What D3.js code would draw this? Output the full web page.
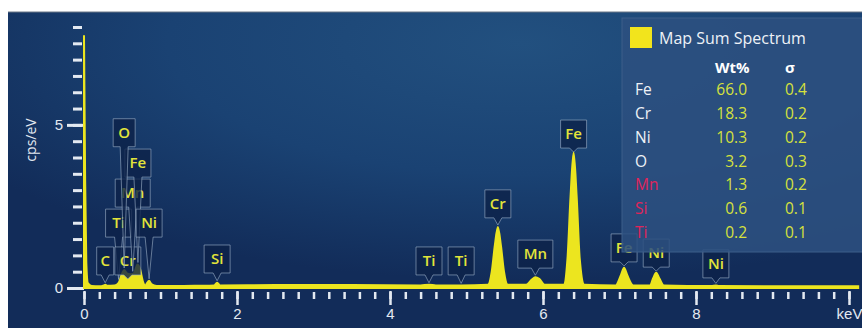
<!DOCTYPE html>
<html>
<head>
<meta charset="utf-8">
<script src="https://cdn.jsdelivr.net/npm/d3@7"></script>
<style>
  body { margin: 0; background: #fff; }
  svg { display: block; font-family: "Open Sans", "Noto Sans", sans-serif; }
</style>
</head>
<body>
<svg id="chart" width="862" height="328"></svg>
<script>
// spectre : énergie (keV) et intensité (cps/eV)
const energies = [0.00, 0.005, 0.015, 0.03, 0.05, 0.10, 0.20, 0.26, 0.28, 0.30, 0.40, 0.45, 0.50, 0.525, 0.56, 0.60, 0.65, 0.70, 0.73, 0.77, 0.80, 0.85, 0.88, 0.95,
  1.20, 1.50, 1.70, 1.74, 1.78, 2.50, 3.50, 4.40, 4.51, 4.60, 4.93, 5.28, 5.33, 5.37, 5.41, 5.45, 5.49, 5.54, 5.78, 5.85, 5.90, 5.95, 6.02,
  6.27, 6.32, 6.36, 6.40, 6.44, 6.48, 6.54, 6.95, 7.02, 7.06, 7.10, 7.18, 7.40, 7.44, 7.48, 7.52, 7.58, 8.20, 8.26, 8.30, 9.50, 10.12];
const counts = [7.75, 6.2, 3.3, 0.8, 0.15, 0.06, 0.05, 0.08, 0.10, 0.07, 0.08, 0.15, 0.45, 0.55, 0.45, 0.42, 0.45, 0.72, 0.6, 0.2, 0.08, 0.22, 0.12, 0.06,
  0.06, 0.07, 0.08, 0.16, 0.08, 0.09, 0.09, 0.08, 0.10, 0.08, 0.08, 0.1, 0.5, 1.3, 1.87, 1.3, 0.5, 0.1, 0.1, 0.25, 0.33, 0.28, 0.1,
  0.1, 0.9, 2.8, 4.15, 2.8, 0.9, 0.1, 0.08, 0.4, 0.62, 0.4, 0.08, 0.08, 0.3, 0.47, 0.3, 0.08, 0.06, 0.08, 0.06, 0.05, 0.05];

// étiquettes des raies : élément, énergie, sommet du pic, bas de la boîte (cps/eV)
const lineNames = ["C", "Ti", "Cr", "Mn", "Fe", "O", "Ni", "Si", "Ti", "Ti", "Cr", "Mn", "Fe", "Fe", "Ni", "Ni"];
const lineEnergies = [0.277, 0.452, 0.573, 0.637, 0.705, 0.525, 0.851, 1.74, 4.51, 4.93, 5.41, 5.90, 6.40, 7.06, 7.48, 8.26];
const lineTips = [0.1, 0.2, 0.5, 0.45, 0.72, 0.55, 0.22, 0.16, 0.1, 0.08, 1.87, 0.33, 4.15, 0.62, 0.47, 0.08];
const lineBoxes = [0.4, 1.56, 0.4, 2.48, 3.4, 4.33, 1.56, 0.46, 0.4, 0.4, 2.15, 0.61, 4.29, 0.8, 0.64, 0.31];

// tableau de quantification
const elements = ["Fe", "Cr", "Ni", "O", "Mn", "Si", "Ti"];
const wtPct = ["66.0", "18.3", "10.3", "3.2", "1.3", "0.6", "0.2"];
const sigma = ["0.4", "0.2", "0.2", "0.3", "0.2", "0.1", "0.1"];
const flagged = [false, false, false, false, true, true, true];

const xTicks = [0, 2, 4, 6, 8];

const svg = d3.select("#chart");
const defs = svg.append("defs");
const grad = defs.append("radialGradient").attr("id", "bg")
  .attr("cx", "60%").attr("cy", "10%").attr("r", "75%");
grad.append("stop").attr("offset", "0%").attr("stop-color", "#22507f");
grad.append("stop").attr("offset", "55%").attr("stop-color", "#1a4273");
grad.append("stop").attr("offset", "100%").attr("stop-color", "#122c59");

svg.append("rect").attr("x", 8).attr("y", 12).attr("width", 854).attr("height", 316)
  .attr("fill", "url(#bg)");
svg.append("line").attr("x1", 8).attr("x2", 862).attr("y1", 12).attr("y2", 12)
  .attr("stroke", "#6b7686").attr("stroke-width", 1);

const x = d3.scaleLinear().domain([0, 10]).range([84, 849]);
const y = d3.scaleLinear().domain([0, 8]).range([288, 27]);

const axisColor = "#e3e9f1";

// axe Y : graduations mineures puis majeures
const gyMinor = svg.append("g").attr("transform", "translate(82,0)")
  .call(d3.axisLeft(y).tickValues(d3.range(0, 8.01, 0.5)).tickSize(9).tickFormat(""));
const gyMajor = svg.append("g").attr("transform", "translate(84,0)")
  .call(d3.axisLeft(y).tickValues([0, 5]).tickSize(17).tickPadding(4));
[gyMinor, gyMajor].forEach((g) => {
  g.select(".domain").remove();
  g.selectAll("line").attr("stroke", axisColor).attr("stroke-width", 3);
  g.selectAll("text").attr("fill", axisColor).style("font-size", "15px");
});

// axe X
const gxMinor = svg.append("g").attr("transform", "translate(0,292)")
  .call(d3.axisBottom(x).tickValues(d3.range(0, 10.01, 0.2)).tickSize(7).tickFormat(""));
const gxMajor = svg.append("g").attr("transform", "translate(0,291)")
  .call(d3.axisBottom(x).tickValues(d3.range(0, 10.01, 2)).tickSize(14).tickPadding(3)
    .tickFormat((d) => (xTicks.includes(d) ? d : "keV")));
[gxMinor, gxMajor].forEach((g) => {
  g.select(".domain").remove();
  g.selectAll("line").attr("stroke", axisColor).attr("stroke-width", 2.5);
  g.selectAll("text").attr("fill", axisColor).style("font-size", "15px");
});

svg.append("text")
  .attr("transform", "translate(36,140) rotate(-90)")
  .attr("text-anchor", "middle")
  .attr("fill", axisColor)
  .style("font-size", "14px")
  .text("cps/eV");

// spectre
const spectrum = energies.map((e, i) => ({ e, c: counts[i] }));
const area = d3.area().curve(d3.curveMonotoneX)
  .x((d) => x(d.e)).y0(y(0)).y1((d) => y(d.c));
svg.append("path").datum(spectrum)
  .attr("d", area)
  .attr("fill", "#ece51f")
  .attr("stroke", "#ece51f")
  .attr("stroke-width", 2);

// étiquettes des raies
const labels = lineNames.map((n, i) => ({ n, e: lineEnergies[i], tip: lineTips[i], box: lineBoxes[i] }));
const lg = svg.append("g");
labels.forEach((d) => {
  const cx = x(d.e);
  const bottom = y(d.box);
  const top = bottom - 28;
  const w = d.n.length === 1 ? (d.n === "C" ? 17 : 22) : (d.n === "Mn" ? 35 : 26);
  const tipY = y(d.tip) - 2;
  const g = lg.append("g");
  g.append("path")
    .attr("d", `M${cx - w / 2},${top} H${cx + w / 2} V${bottom} H${cx + 4} L${cx},${Math.max(tipY, bottom + 4)} L${cx - 4},${bottom} H${cx - w / 2} Z`)
    .attr("fill", "#0d2249")
    .attr("fill-opacity", 0.8)
    .attr("stroke", "#9fb2c9")
    .attr("stroke-opacity", 0.6)
    .attr("stroke-width", 1);
  g.append("text")
    .attr("x", cx).attr("y", top + 19)
    .attr("text-anchor", "middle")
    .attr("fill", "#e2e43a")
    .style("font-size", "15px")
    .style("font-weight", 600)
    .text(d.n);
});

// légende / quantification
const leg = svg.append("g");
leg.append("rect").attr("x", 622).attr("y", 18).attr("width", 250).attr("height", 234)
  .attr("fill", "#2c5080").attr("fill-opacity", 0.88)
  .attr("stroke", "#3d5f8a").attr("stroke-width", 1);
leg.append("rect").attr("x", 630).attr("y", 27).attr("width", 22).attr("height", 21)
  .attr("fill", "#f2e41c");
leg.append("text").attr("x", 659).attr("y", 44).attr("fill", "#eef2f7")
  .style("font-size", "16px").text("Map Sum Spectrum");
leg.append("text").attr("x", 715).attr("y", 73).attr("fill", "#ffffff")
  .style("font-size", "15px").style("font-weight", "bold").text("Wt%");
leg.append("text").attr("x", 785).attr("y", 73).attr("fill", "#ffffff")
  .style("font-size", "15px").style("font-weight", "bold").text("σ");

const rowY = d3.scaleBand().domain(elements).range([78, 245]);
elements.forEach((el, i) => {
  const yy = rowY(el) + rowY.bandwidth() / 2 + 5;
  leg.append("text").attr("x", 635).attr("y", yy)
    .attr("fill", flagged[i] ? "#e0245a" : "#eef2f7")
    .style("font-size", "15.5px").text(el);
  leg.append("text").attr("x", 747).attr("y", yy).attr("text-anchor", "end")
    .attr("fill", "#d6e13c").style("font-size", "15.5px").text(wtPct[i]);
  leg.append("text").attr("x", 785).attr("y", yy)
    .attr("fill", "#d6e13c").style("font-size", "15.5px").text(sigma[i]);
});
</script>
</body>
</html>
